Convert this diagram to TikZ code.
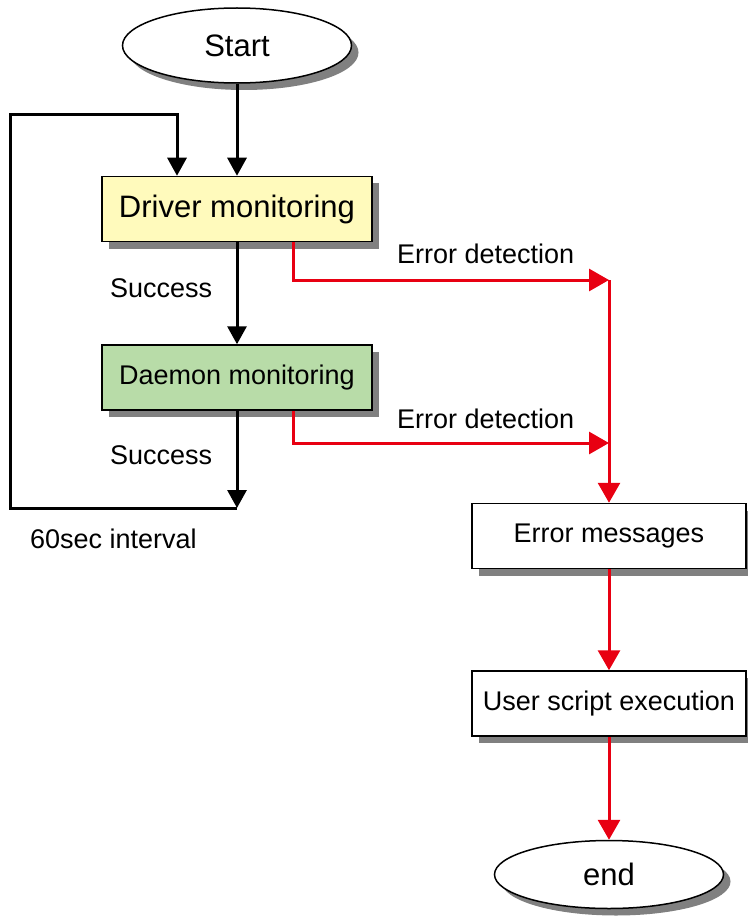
\documentclass[tikz,border=0pt]{standalone}
\usepackage{fontspec}
\setmainfont{Liberation Sans}
\usepackage{tikz}
\usetikzlibrary{arrows.meta,positioning,shapes.geometric,shadows}
\definecolor{paleyellow}{RGB}{255,250,188}
\definecolor{palegreen}{RGB}{184,220,168}
\definecolor{errred}{RGB}{232,0,18}
\definecolor{shadowgray}{RGB}{128,128,128}

\begin{document}
\begin{tikzpicture}[
    x=1pt, y=1pt,
    node distance=92pt,
    shade/.style={drop shadow={shadow xshift=7pt, shadow yshift=-7pt, fill=shadowgray, opacity=1}},
    terminal/.style={draw, ellipse, line width=1.5pt, fill=white, shade, minimum width=229pt, minimum height=75pt, inner sep=0pt, font=\fontsize{31}{36}\selectfont},
    box/.style={draw, line width=1.5pt, shade, minimum width=270pt, minimum height=65pt, inner sep=0pt, font=\fontsize{27}{32}\selectfont},
    lbl/.style={anchor=base west, inner sep=0pt, font=\fontsize{27}{32}\selectfont},
    arr/.style={-{Triangle[length=18pt, width=19pt]}, line width=3pt},
    redarr/.style={-{Triangle[length=20pt, width=22pt]}, line width=3pt, errred}
]
\useasboundingbox (0,0) rectangle (747,-920);

\node[terminal] (start) at (237,-45.5) {Start};
\node[box, fill=paleyellow, below=of start, font=\fontsize{31}{36}\selectfont] (driver) {Driver monitoring};
\node[box, fill=palegreen, below=102pt of driver] (daemon) {Daemon monitoring};

\node[box, fill=white, below=92pt of daemon, xshift=372pt, minimum width=274pt] (errmsg) {Error messages};
\node[box, fill=white, below=101pt of errmsg, minimum width=274pt] (userscript) {User script execution};
\node[terminal, below=103pt of userscript, minimum height=68pt] (stop) {end};

\coordinate (loopbr) at (237,-508);
\coordinate (loopbl) at (10,-508);
\coordinate (looptl) at (10,-115);
\coordinate (join1) at (609,-280);
\coordinate (join2) at (609,-443);

\node[lbl] (err1lbl) at (397,-263) {Error detection};
\node[lbl] (err2lbl) at (397,-428) {Error detection};
\node[lbl] (ok1lbl) at (110,-297) {Success};
\node[lbl] (ok2lbl) at (110,-464) {Success};
\node[lbl] (intervallbl) at (30,-548) {60sec interval};

\draw[arr] (start) -- (driver);
\draw[arr] (driver) -- (daemon);
\draw[arr] (daemon) -- (loopbr);
\draw[arr] (loopbr) -- (loopbl) -- (looptl) -| ([xshift=-60pt]driver.north);
\draw[redarr] ([xshift=56pt]driver.south) |- (join1);
\draw[redarr] ([xshift=56pt]daemon.south) |- (join2);
\draw[redarr] (join1) -- (errmsg);
\draw[redarr] (errmsg) -- (userscript);
\draw[redarr] (userscript) -- (stop);

\end{tikzpicture}
\end{document}
